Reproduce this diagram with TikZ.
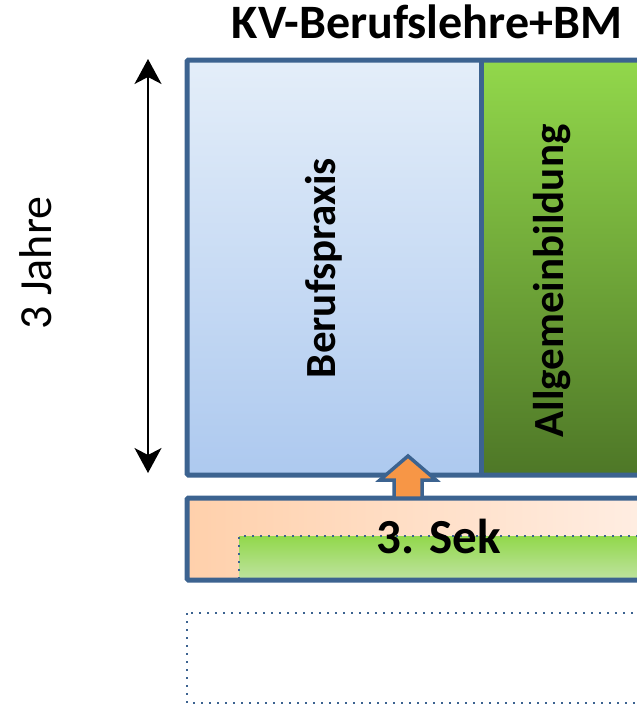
\documentclass[tikz,border=0pt]{standalone}
\usepackage{fontspec}
\setmainfont{Carlito}
\usetikzlibrary{arrows.meta}
\definecolor{bordblue}{HTML}{3C6390}
\definecolor{blueT}{HTML}{E4EEF9}
\definecolor{blueB}{HTML}{ADC9EF}
\definecolor{greenT}{HTML}{92D84B}
\definecolor{greenB}{HTML}{4E7727}
\definecolor{greenL}{HTML}{BFE3A1}
\definecolor{peachL}{HTML}{FFD0AB}
\definecolor{peachR}{HTML}{FFF1E9}
\definecolor{arrowor}{HTML}{F79646}
\tikzset{
  bord/.style={draw=bordblue, line width=5pt, rounded corners=1.5pt},
  dotline/.style={draw=bordblue, line width=2pt, dash pattern=on 2pt off 6pt},
  lbl/.style={inner sep=0pt, text=black},
  boldlbl/.style={lbl, font=\bfseries\fontsize{#1}{#1}\selectfont},
  reglbl/.style={lbl, font=\fontsize{#1}{#1}\selectfont},
  dimarrow/.style={{Stealth[length=25pt,width=27pt,inset=7pt]}-{Stealth[length=25pt,width=27pt,inset=7pt]}, line width=1.6pt, black}
}
\begin{document}
\begin{tikzpicture}[x=1pt,y=-1pt]
\useasboundingbox (0,0) rectangle (637,707);
\clip (0,0) rectangle (637,707);
% main block
\shade[top color=blueT, bottom color=blueB] (187,60) rectangle (481,475);
\shade[top color=greenT, bottom color=greenB] (481,60) rectangle (690,475);
\draw[bord] (187,60) rectangle (700,475);
\draw[draw=bordblue, line width=5pt] (481,60) -- (481,475);
% 3. Sek block
\shade[left color=peachL, right color=peachR] (187,498) rectangle (700,580);
\shade[top color=greenT, bottom color=greenL] (239,536) rectangle (700,580);
\draw[dotline] (239,579) -- (239,536) -- (700,536);
\draw[bord] (187,498) rectangle (700,580);
% orange arrow
\draw[fill=arrowor, draw=bordblue, line width=3.5pt, line join=miter]
  (408,456) -- (436,480) -- (422,480) -- (422,498) -- (394,498) -- (394,480) -- (380,480) -- cycle;
% dotted box
\draw[dotline] (187,613) rectangle (700,703);
% dimension arrow
\coordinate (dtop) at (148,59);
\coordinate (dbot) at (148,473);
\draw[dimarrow] (dtop) -- (dbot);
% texts
\node[reglbl=46, rotate=90] (jahre) at (36,263) {3 Jahre};
\node[boldlbl=48, anchor=base] (title) at (427,38) {KV-Berufslehre+BM};
\node[boldlbl=43, rotate=90] (bp) at (324,268) {Berufspraxis};
\node[boldlbl=43, rotate=90] (ab) at (552,281) {Allgemeinbildung};
\node[boldlbl=49] (sek) at (439,536) {3. Sek};
\end{tikzpicture}
\end{document}
